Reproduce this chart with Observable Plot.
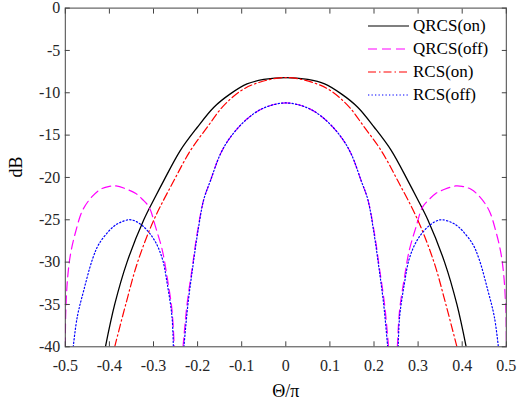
<!DOCTYPE html>
<html><head><meta charset="utf-8">
<script src="https://cdn.jsdelivr.net/npm/d3@7"></script>
<script src="https://cdn.jsdelivr.net/npm/@observablehq/plot@0.6"></script>
<style>
body{margin:0;background:#fff;}
#wrap{position:relative;width:518px;height:405px;}
#wrap, #wrap svg, #wrap svg text, .row{font-family:"Liberation Serif","Times New Roman","Liberation Sans",Arial,sans-serif !important;}
#legend{position:absolute;left:368px;top:14px;}
.row{display:flex;align-items:center;height:23px;font-size:17px;color:#000;white-space:nowrap;}
.row svg{width:41px;height:10px;margin-right:4px;overflow:visible;}
</style></head><body><div id="wrap"><div id="legend"></div></div>
<script>
// Tick values
const xTicks = [-0.5,-0.4,-0.3,-0.2,-0.1,0,0.1,0.2,0.3,0.4,0.5];
const yTicks = [-40,-35,-30,-25,-20,-15,-10,-5,0];

// QRCS(on) - black solid
const qOnX = [-0.409,-0.388,-0.36,-0.322,-0.297,-0.277,-0.239,-0.201,-0.163,-0.125,-0.088,-0.05,0,
              0.05,0.088,0.125,0.163,0.201,0.239,0.277,0.297,0.322,0.36,0.388,0.409];
const qOnY = [-40,-35,-30,-25,-22.4,-20.4,-16.8,-14.1,-11.7,-10.1,-8.95,-8.43,-8.2,
              -8.43,-8.95,-10.1,-11.7,-14.1,-16.8,-20.4,-22.4,-25,-30,-35,-40];

// QRCS(off) - magenta dashed (three lobes, NaN separates them)
const qOffX = [-0.5,-0.499,-0.495,-0.488,-0.477,-0.461,-0.44,-0.42,-0.4,-0.385,-0.36,-0.34,-0.325,-0.31,-0.295,-0.28,-0.269,-0.258,-0.253,
               NaN,
               -0.233,-0.224,-0.212,-0.201,-0.186,-0.171,-0.148,-0.125,-0.088,-0.05,0,0.05,0.088,0.125,0.148,0.171,0.186,0.201,0.212,0.224,0.233,
               NaN,
               0.253,0.258,0.269,0.28,0.295,0.31,0.325,0.34,0.36,0.385,0.4,0.42,0.44,0.461,0.477,0.488,0.495,0.499,0.5];
const qOffY = [-40,-36,-32,-29,-26.5,-23.9,-22.3,-21.4,-21.05,-21,-21.4,-21.9,-22.6,-23.5,-25.9,-28.6,-31.8,-35.7,-40,
               NaN,
               -40,-35,-30.6,-26.6,-22.6,-20.4,-17.2,-15.2,-13.1,-11.8,-11.2,-11.8,-13.1,-15.2,-17.2,-20.4,-22.6,-26.6,-30.6,-35,-40,
               NaN,
               -40,-35.7,-31.8,-28.6,-25.9,-23.5,-22.6,-21.9,-21.4,-21,-21.05,-21.4,-22.3,-23.9,-26.5,-29,-32,-36,-40];

// RCS(on) - red dash-dot
const rOnX = [-0.388,-0.363,-0.336,-0.299,-0.254,-0.216,-0.178,-0.144,-0.103,-0.065,0,
              0.065,0.103,0.144,0.178,0.216,0.254,0.299,0.336,0.363,0.388];
const rOnY = [-40,-35,-30,-25,-20.4,-16.8,-14.06,-11.7,-9.8,-8.85,-8.2,
              -8.85,-9.8,-11.7,-14.06,-16.8,-20.4,-25,-30,-35,-40];

// RCS(off) - blue dotted
const rOffX = [-0.482,-0.473,-0.458,-0.438,-0.423,-0.393,-0.375,-0.351,-0.325,-0.298,-0.28,-0.269,-0.258,-0.255,
               NaN,
               -0.231,-0.222,-0.211,-0.2,-0.186,-0.171,-0.148,-0.125,-0.088,-0.05,0,0.05,0.088,0.125,0.148,0.171,0.186,0.2,0.211,0.222,0.231,
               NaN,
               0.255,0.258,0.269,0.28,0.298,0.325,0.351,0.375,0.393,0.423,0.438,0.458,0.473,0.482];
const rOffY = [-40,-36.5,-33.3,-29.6,-27.8,-25.9,-25.3,-25,-25.7,-27.4,-29.6,-32.5,-36.5,-40,
               NaN,
               -40,-35,-30.6,-26.6,-22.6,-20.4,-17.2,-15.2,-13.1,-11.8,-11.2,-11.8,-13.1,-15.2,-17.2,-20.4,-22.6,-26.6,-30.6,-35,-40,
               NaN,
               -40,-36.5,-32.5,-29.6,-27.4,-25.7,-25,-25.3,-25.9,-27.8,-29.6,-33.3,-36.5,-40];

const seriesNames = ["QRCS(on)","QRCS(off)","RCS(on)","RCS(off)"];
const seriesColors = ["#000000","#ff00ff","#ff0000","#0000ff"];
const seriesDash = [null,"9,5","8,3,1.5,3","1.3,2.2"];
const seriesX = [qOnX,qOffX,rOnX,rOffX];
const seriesY = [qOnY,qOffY,rOnY,rOffY];

const toRows = (xs, ys) => xs.map((x,i)=>({x, y: ys[i]}));
const fmt = d => d === 0 ? "0" : String(d);
const fmtX = d => d === 0 ? "0" : d.toFixed(1);
const axisColor = "#444";

const lineMarks = seriesNames.map((n,i)=> Plot.line(toRows(seriesX[i], seriesY[i]), {
  x:"x", y:"y", stroke: seriesColors[i], strokeWidth: i===0 ? 1.3 : 1.2,
  strokeDasharray: seriesDash[i] || undefined, curve:"catmull-rom", clip:true
}));

const chart = Plot.plot({
  width: 518, height: 405,
  marginLeft: 64.8, marginRight: 12.2, marginTop: 7.6, marginBottom: 58.7,
  style: {fontSize: "16px", color: "#262626", background: "#fff"},
  x: {domain: [-0.5, 0.5]},
  y: {domain: [-40, 0]},
  marks: [
    ...lineMarks,
    Plot.frame({stroke: axisColor}),
    Plot.axisX({anchor:"bottom", ticks: xTicks, tickSize: 5, dy: -5, tickFormat: () => "", label: null, stroke: axisColor}),
    Plot.axisX({anchor:"top", ticks: xTicks, tickSize: 5, dy: 5, tickFormat: () => "", label: null, stroke: axisColor}),
    Plot.axisY({anchor:"left", ticks: yTicks, tickSize: 5, dx: 5, tickFormat: () => "", label: null, stroke: axisColor}),
    Plot.axisY({anchor:"right", ticks: yTicks, tickSize: 5, dx: -5, tickFormat: () => "", label: null, stroke: axisColor}),
    Plot.axisX({anchor:"bottom", ticks: xTicks, tickSize: 0, tickPadding: 13, tickFormat: fmtX, label: null, fill: "#262626"}),
    Plot.axisY({anchor:"left", ticks: yTicks, tickSize: 0, tickPadding: 5, tickFormat: fmt, label: null, fill: "#262626"}),
    Plot.text(["dB"], {frameAnchor: "left", text: d => d, rotate: -90, dx: -49, fontSize: 18, fill: "#000"}),
    Plot.text(["\u0398/\u03c0"], {frameAnchor: "bottom", text: d => d, dy: 50, fontSize: 18, fill: "#000"})
  ]
});
document.getElementById("wrap").prepend(chart);

const legend = document.getElementById("legend");
seriesNames.forEach((n,i)=>{
  const row = document.createElement("div");
  row.className = "row";
  const dash = seriesDash[i] ? `stroke-dasharray="${seriesDash[i]}"` : "";
  row.innerHTML = `<svg viewBox="0 0 41 10"><line x1="0" y1="5" x2="41" y2="5" stroke="${seriesColors[i]}" stroke-width="1.2" ${dash}/></svg><span>${n}</span>`;
  legend.appendChild(row);
});
</script>
</body></html>
